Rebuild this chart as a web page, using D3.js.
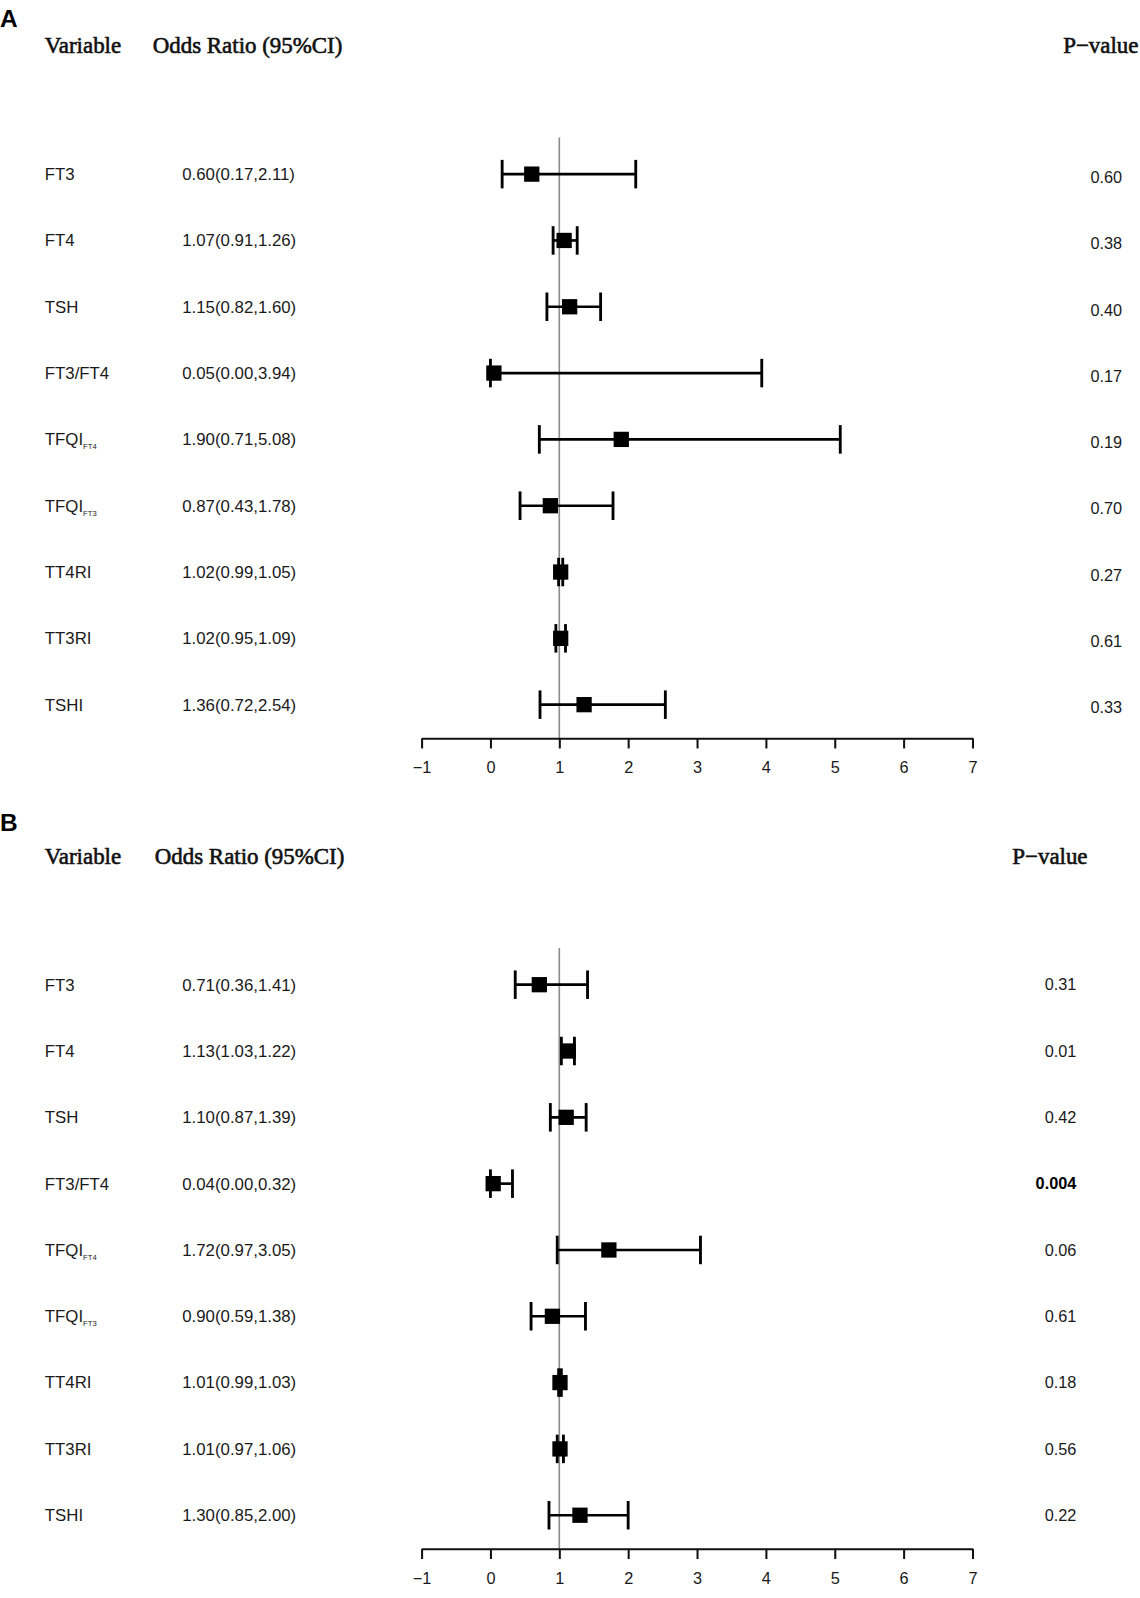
<!DOCTYPE html>
<html>
<head>
<meta charset="utf-8">
<script src="https://cdn.jsdelivr.net/npm/d3@7"></script>
<style>
  body { margin: 0; background: #fff; }
  svg { display: block; }
</style>
</head>
<body>
<div id="chart"></div>
<script>
// Variables (rows, top to bottom); subscripts shown after "_"
const variables = ["FT3", "FT4", "TSH", "FT3/FT4", "TFQI_FT4", "TFQI_FT3", "TT4RI", "TT3RI", "TSHI"];
const axisTicks = [-1, 0, 1, 2, 3, 4, 5, 6, 7];

// Panel A
const orA   = [0.60, 1.07, 1.15, 0.05, 1.90, 0.87, 1.02, 1.02, 1.36];
const lowA  = [0.17, 0.91, 0.82, 0.00, 0.71, 0.43, 0.99, 0.95, 0.72];
const highA = [2.11, 1.26, 1.60, 3.94, 5.08, 1.78, 1.05, 1.09, 2.54];
const pA    = ["0.60", "0.38", "0.40", "0.17", "0.19", "0.70", "0.27", "0.61", "0.33"];
const boldA = [false, false, false, false, false, false, false, false, false];

// Panel B
const orB   = [0.71, 1.13, 1.10, 0.04, 1.72, 0.90, 1.01, 1.01, 1.30];
const lowB  = [0.36, 1.03, 0.87, 0.00, 0.97, 0.59, 0.99, 0.97, 0.85];
const highB = [1.41, 1.22, 1.39, 0.32, 3.05, 1.38, 1.03, 1.06, 2.00];
const pB    = ["0.31", "0.01", "0.42", "0.004", "0.06", "0.61", "0.18", "0.56", "0.22"];
const boldB = [false, false, false, true, false, false, false, false, false];

const W = 1140, H = 1598;
const k = 1.0183; // layout below was measured on a slightly shrunk copy
const serif = "'Liberation Serif', 'Times New Roman', serif";
const sans = "'Liberation Sans', Arial, sans-serif";
const ink = "#1a1a1a";

const svg = d3.select("#chart").append("svg")
    .attr("width", W)
    .attr("height", H);
const root = svg.append("g").attr("transform", `scale(${k})`);

const x = d3.scaleLinear().domain([-1, 7]).range([414, 955]);

function drawPanel(opts) {
    const g = root.append("g").attr("transform", `translate(0,${opts.top})`);
    const rows = variables.map((v, i) => ({
        v, or: opts.or[i], lo: opts.low[i], hi: opts.high[i], p: opts.p[i], bold: opts.bold[i]
    }));

    const y = d3.scalePoint().domain(variables).range([171, 692]);

    // panel letter
    g.append("text")
        .attr("x", 0).attr("y", opts.letterY)
        .style("font-family", sans).style("font-weight", "bold").style("font-size", "24px")
        .attr("fill", "#000")
        .text(opts.letter);

    // headers
    const header = (tx, anchor, text) => g.append("text")
        .attr("x", tx).attr("y", 52)
        .attr("text-anchor", anchor)
        .style("font-family", serif).style("font-size", "22.5px")
        .attr("fill", "#111").attr("stroke", "#111").attr("stroke-width", 0.6)
        .text(text);
    header(44, "start", "Variable");
    header(opts.orHeadX, "start", "Odds Ratio (95%CI)");
    header(opts.pHeadX, "end", "P\u2212value");

    // variable labels
    const lab = g.selectAll("text.var").data(rows).enter().append("text")
        .attr("class", "var")
        .attr("x", 44).attr("y", d => y(d.v)).attr("dy", "0.35em")
        .style("font-family", sans).style("font-size", "16.5px")
        .attr("fill", ink);
    lab.each(function(d) {
        const parts = d.v.split("_");
        const t = d3.select(this);
        t.append("tspan").text(parts[0]);
        if (parts[1]) {
            t.append("tspan").attr("dy", 4).style("font-size", "7.5px").text(parts[1]);
        }
    });

    // OR (CI) text
    g.selectAll("text.or").data(rows).enter().append("text")
        .attr("x", 179).attr("y", d => y(d.v)).attr("dy", "0.35em")
        .style("font-family", sans).style("font-size", "16.5px")
        .attr("fill", ink)
        .text(d => `${d.or.toFixed(2)}(${d.lo.toFixed(2)},${d.hi.toFixed(2)})`);

    // p-values
    g.selectAll("text.p").data(rows).enter().append("text")
        .attr("x", opts.pX).attr("y", d => y(d.v) + opts.pShift).attr("dy", "0.35em")
        .attr("text-anchor", "end")
        .style("font-family", sans).style("font-size", "16px")
        .style("font-weight", d => d.bold ? "bold" : "normal")
        .attr("fill", d => d.bold ? "#000" : ink)
        .text(d => d.p);

    const axisY = 725;

    // reference line at OR = 1
    g.append("line")
        .attr("x1", x(1)).attr("x2", x(1))
        .attr("y1", 135).attr("y2", axisY)
        .attr("stroke", "#8c8c8c").attr("stroke-width", 1.6);

    // CI lines with caps
    const ci = g.selectAll("g.ci").data(rows).enter().append("g").attr("class", "ci");
    ci.append("line")
        .attr("x1", d => x(d.lo)).attr("x2", d => x(d.hi))
        .attr("y1", d => y(d.v)).attr("y2", d => y(d.v))
        .attr("stroke", "#000").attr("stroke-width", 2.6);
    [d => d.lo, d => d.hi].forEach(acc => {
        ci.append("line")
            .attr("x1", d => x(acc(d))).attr("x2", d => x(acc(d)))
            .attr("y1", d => y(d.v) - 14).attr("y2", d => y(d.v) + 14)
            .attr("stroke", "#000").attr("stroke-width", 2.8);
    });
    // boxes
    const bs = 15;
    ci.append("rect")
        .attr("x", d => x(d.or) - bs / 2).attr("y", d => y(d.v) - bs / 2)
        .attr("width", bs).attr("height", bs)
        .attr("fill", "#000");

    // x axis
    const axis = g.append("g")
        .attr("transform", `translate(0,${axisY})`)
        .call(d3.axisBottom(x).tickValues(axisTicks).tickSize(10).tickSizeOuter(0)
            .tickFormat(d => d < 0 ? "\u2212" + Math.abs(d) : d));
    axis.select(".domain").attr("stroke", "#111").attr("stroke-width", 2);
    axis.selectAll(".tick line").attr("stroke", "#111").attr("stroke-width", 2);
    axis.selectAll(".tick text")
        .attr("y", 23)
        .style("font-family", sans).style("font-size", "16px")
        .attr("fill", ink);
}

drawPanel({letter: "A", top: 0, letterY: 27, or: orA, low: lowA, high: highA, p: pA, bold: boldA,
    orHeadX: 150, pHeadX: 1118, pX: 1102, pShift: 3});
drawPanel({letter: "B", top: 796, letterY: 20, or: orB, low: lowB, high: highB, p: pB, bold: boldB,
    orHeadX: 152, pHeadX: 1068, pX: 1057, pShift: 0});
</script>
</body>
</html>
